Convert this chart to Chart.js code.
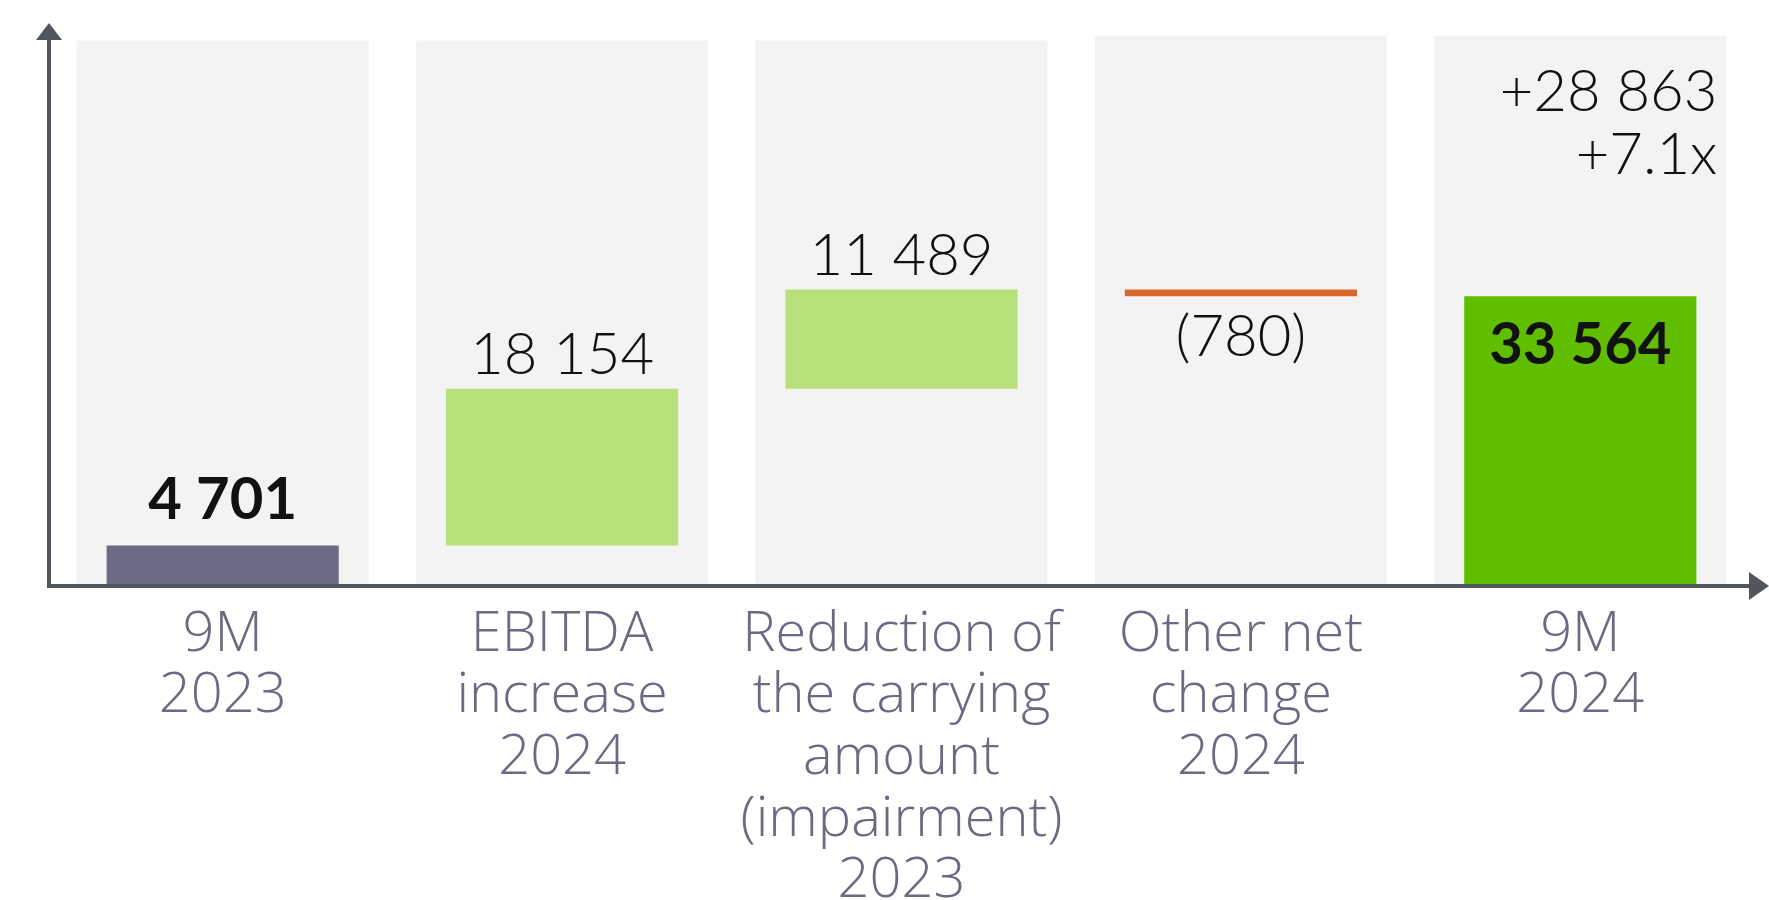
<!DOCTYPE html>
<html>
<head>
  <title>9M 2024 bridge</title>
  <script src="https://cdn.jsdelivr.net/npm/chart.js"></script>
  <style>
    html, body { margin: 0; padding: 0; background: #fff; }
    #wrap { width: 1769px; height: 900px; }
  </style>
</head>
<body>
  <div id="wrap"><canvas id="bridgeChart"></canvas></div>

  <script>
    // categories (multi-line tick labels)
    const categories = [
      ['9M', '2023'],
      ['EBITDA', 'increase', '2024'],
      ['Reduction of', 'the carrying', 'amount', '(impairment)', '2023'],
      ['Other net', 'change', '2024'],
      ['9M', '2024']
    ];
    // step values: start, changes, total
    const values = [4701, 18154, 11489, -780, 33564];
    const isTotal = [true, false, false, false, true];
    const valueText = ['4 701', '18 154', '11 489', '(780)', '33 564'];
    const barColors = ['#6b6b83', '#b8e07b', '#b8e07b', '#d9662b', '#60bd00'];
    // grey backdrop columns
    const backdrop = [63200, 63200, 63200, 63750, 63750];
    const deltaText = ['+28 863', '+7.1x'];

    // floating ranges for the waterfall
    let running = 0;
    const ranges = values.map((v, i) => {
      if (isTotal[i]) { running = v; return [0, v]; }
      const r = [running, running + v];
      running += v;
      return r;
    });

    const axisColor = '#50565b';
    const font = 'Lato, "Open Sans", sans-serif';
    const labelFont = '"Open Sans", Lato, sans-serif';

    const axesPlugin = {
      id: 'arrows',
      afterDatasetsDraw(chart) {
        const ctx = chart.ctx;
        const a = chart.chartArea;
        const x0 = 49, y0 = a.bottom;
        ctx.save();
        ctx.strokeStyle = axisColor;
        ctx.fillStyle = axisColor;
        ctx.lineWidth = 4;
        ctx.beginPath();
        ctx.moveTo(x0, y0 + 2);
        ctx.lineTo(x0, 38);
        ctx.moveTo(x0 - 2, y0);
        ctx.lineTo(1752, y0);
        ctx.stroke();
        // arrow heads
        ctx.beginPath();
        ctx.moveTo(x0, 23);
        ctx.lineTo(x0 - 13, 40);
        ctx.lineTo(x0 + 13, 40);
        ctx.closePath();
        ctx.fill();
        ctx.beginPath();
        ctx.moveTo(1769, y0);
        ctx.lineTo(1749, y0 - 14);
        ctx.lineTo(1749, y0 + 14);
        ctx.closePath();
        ctx.fill();
        ctx.restore();
      }
    };

    const labelPlugin = {
      id: 'valueLabels',
      afterDatasetsDraw(chart) {
        const ctx = chart.ctx;
        const meta = chart.getDatasetMeta(1);
        ctx.save();
        ctx.fillStyle = '#111';
        ctx.textAlign = 'center';
        ctx.textBaseline = 'alphabetic';
        meta.data.forEach((bar, i) => {
          const top = Math.min(bar.y, bar.base);
          const bottom = Math.max(bar.y, bar.base);
          let y;
          if (i === 0) {
            ctx.font = 'bold 58px ' + font;
            y = top - 26;
          } else if (i === 4) {
            ctx.font = 'bold 58px ' + font;
            y = top + 68;
          } else if (values[i] < 0) {
            ctx.font = '300 58px ' + font;
            y = bottom + 60;
          } else {
            ctx.font = '300 58px ' + font;
            y = top - 15;
          }
          ctx.fillText(valueText[i], bar.x, y);
        });
        // change vs previous period, top right
        const last = meta.data[4];
        ctx.textAlign = 'right';
        ctx.font = '300 58px ' + font;
        ctx.fillText(deltaText[0], last.x + 137, 111);
        ctx.fillText(deltaText[1], last.x + 137, 174);
        ctx.restore();
      }
    };

    const ctx = document.getElementById('bridgeChart').getContext('2d');
    new Chart(ctx, {
      type: 'bar',
      data: {
        labels: categories,
        datasets: [
          {
            data: backdrop,
            backgroundColor: '#f2f3f2',
            barPercentage: 0.86,
            categoryPercentage: 1,
            grouped: false,
            order: 2
          },
          {
            data: ranges,
            backgroundColor: barColors,
            barPercentage: 0.684,
            categoryPercentage: 1,
            grouped: false,
            borderSkipped: false,
            order: 1
          }
        ]
      },
      options: {
        responsive: true,
        maintainAspectRatio: false,
        animation: false,
        layout: { padding: { left: 53, right: 19, top: 25, bottom: 0 } },
        plugins: { legend: { display: false }, tooltip: { enabled: false } },
        scales: {
          x: {
            grid: { display: false, drawTicks: false },
            border: { display: false },
            ticks: {
              color: '#6b6a83',
              padding: 18,
              maxRotation: 0,
              autoSkip: false,
              font: { family: labelFont, size: 56, weight: 300, lineHeight: 1.1 }
            },
            afterFit(scale) { scale.height = 314; }
          },
          y: { display: false, min: 0, max: 65000 }
        }
      },
      plugins: [labelPlugin, axesPlugin]
    });
  </script>
</body>
</html>
